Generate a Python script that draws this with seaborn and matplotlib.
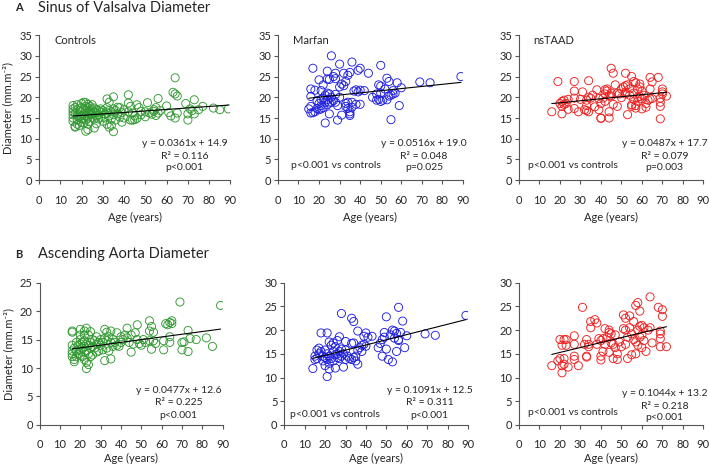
"""
Aortic root diameters vs age: Controls, Marfan and nsTAAD groups.
Two rows (sinus of Valsalva / ascending aorta), one scatter + linear fit per group.
"""

import matplotlib
matplotlib.use("Agg")
import matplotlib.pyplot as plt
import seaborn as sns
import numpy as np

# --- Sinus of Valsalva (indexed diameter, mm.m-2) ---
sov_ctrl_age = [16, 16, 16, 16, 16, 16, 17, 17, 17, 17, 18, 18, 18, 18, 18, 19, 19, 19,
                20, 20, 20, 20, 20, 20, 21, 21, 21, 21, 21, 22, 22, 22, 22, 22, 22,
                23, 23, 23, 23, 23, 23, 24, 24, 24, 24, 25, 25, 25, 25, 26, 26, 26, 26,
                27, 27, 27, 27, 28, 28, 28, 29, 29, 29, 30, 30, 31, 31, 32, 32, 32, 32,
                33, 33, 33, 33, 34, 34, 34, 35, 35, 35, 35, 36, 36, 37, 37, 38, 38, 39, 39,
                40, 40, 42, 42, 42, 43, 43, 44, 44, 45, 45, 46, 46, 47, 48, 48, 50, 50,
                51, 52, 53, 54, 54, 55, 55, 56, 56, 57, 60, 61, 62, 63, 64, 64, 64, 65, 65,
                69, 70, 70, 71, 72, 73, 73, 75, 77, 82, 85, 89]
sov_ctrl_dia = [18.0, 17.2, 16.5, 15.8, 15.0, 14.2, 17.5, 16.0, 13.0, 12.8, 18.2, 17.0, 15.5, 14.5, 13.5, 16.8, 15.2, 13.2,
                18.5, 17.5, 16.5, 15.5, 14.8, 14.0, 18.8, 17.2, 16.0, 15.0, 13.8, 18.7, 17.8, 16.8, 15.6, 14.5, 11.8,
                18.3, 17.5, 16.2, 15.0, 13.5, 12.2, 17.8, 16.8, 15.8, 14.2, 18.2, 17.0, 16.0, 15.2, 17.4, 16.4, 14.8, 12.6,
                17.0, 16.2, 15.5, 13.6, 16.8, 15.8, 14.8, 17.2, 16.4, 15.2, 16.8, 14.2, 16.0, 15.0, 19.6, 17.5, 16.2, 13.5,
                18.8, 16.8, 15.5, 12.8, 16.5, 14.8, 13.2, 20.1, 17.2, 15.8, 11.7, 16.8, 14.5, 17.6, 16.0, 17.5, 15.2, 16.3, 14.0,
                17.0, 15.0, 20.6, 18.6, 16.5, 17.8, 14.5, 16.2, 14.5, 15.5, 14.6, 18.2, 14.9, 17.5, 15.8, 16.6, 15.3, 16.5,
                18.7, 16.2, 15.9, 17.0, 16.6, 17.5, 15.6, 19.7, 16.2, 16.8, 17.9, 16.3, 15.5, 21.2, 24.7, 20.8, 15.0, 20.3, 16.2,
                18.5, 16.0, 14.5, 17.2, 16.8, 19.4, 16.0, 17.0, 17.8, 17.4, 17.0, 17.2]

sov_mfs_age = [15, 16, 16, 16, 16, 17, 17, 18, 18, 19, 19, 20, 20, 20, 21, 21, 21, 21, 22, 22, 22,
               23, 23, 23, 24, 24, 24, 24, 24, 25, 25, 25, 25, 26, 26, 26, 27, 27, 28, 28, 28, 28,
               29, 29, 30, 30, 30, 31, 31, 32, 32, 33, 33, 33, 34, 34, 34, 35, 35, 35, 35, 36, 36, 36,
               37, 38, 38, 39, 39, 40, 40, 40, 42, 44, 46, 48, 48, 49, 49, 50, 50, 50, 50, 51, 52,
               53, 53, 54, 54, 55, 55, 56, 56, 57, 58, 59, 60, 69, 74, 89]
sov_mfs_dia = [17.2, 22.0, 20.2, 17.8, 16.2, 27.0, 16.3, 21.7, 16.5, 19.2, 17.3, 24.2, 18.5, 17.0, 21.6, 19.5, 18.0, 17.2, 23.0, 19.8, 17.5,
               20.5, 18.8, 13.8, 26.3, 24.4, 21.0, 19.5, 18.2, 24.3, 20.8, 16.0, 18.6, 30.0, 20.0, 18.8, 25.0, 19.2, 25.8, 24.5, 20.7, 18.8,
               18.0, 14.5, 28.0, 22.5, 20.0, 23.2, 15.7, 25.8, 22.8, 23.8, 18.5, 17.8, 25.3, 18.8, 17.3, 26.0, 16.5, 16.0, 15.6, 28.5, 18.8, 17.6,
               21.5, 21.8, 18.3, 26.5, 21.3, 27.0, 21.7, 18.3, 21.6, 25.8, 20.0, 19.3, 20.8, 23.0, 19.5, 27.7, 22.7, 21.0, 19.0, 19.3, 22.0,
               24.6, 19.4, 23.8, 20.3, 14.6, 20.5, 21.6, 20.8, 21.0, 23.5, 18.0, 22.3, 23.7, 23.5, 25.0]

sov_ns_age = [16, 19, 20, 21, 21, 21, 22, 22, 23, 24, 24, 27, 27, 27, 27, 29, 30, 31, 32, 33, 33, 33,
              34, 34, 34, 35, 36, 37, 38, 39, 39, 40, 40, 40, 41, 42, 42, 42, 43, 43, 44, 44, 44,
              45, 45, 45, 46, 46, 47, 48, 48, 49, 50, 50, 51, 52, 52, 52, 52, 53, 53, 54, 54,
              55, 55, 55, 56, 56, 56, 57, 57, 57, 58, 58, 58, 59, 59, 59, 60, 60, 60, 61, 62, 62,
              63, 64, 64, 64, 65, 65, 68, 69, 69, 69, 69, 70, 70, 70, 72]
sov_ns_dia = [16.5, 23.8, 18.5, 19.0, 17.8, 16.0, 19.3, 18.3, 18.5, 19.5, 17.1, 23.8, 21.5, 19.8, 17.3, 16.5, 19.5, 21.3, 17.0, 19.3, 18.0, 16.8,
              24.0, 20.0, 16.5, 19.8, 20.5, 17.7, 21.8, 19.7, 17.0, 18.5, 15.0, 14.9, 19.8, 21.8, 20.8, 19.0, 22.0, 21.5, 20.3, 16.5, 15.0,
              27.0, 21.0, 20.3, 25.8, 18.3, 23.0, 21.0, 17.8, 20.8, 22.0, 19.9, 22.5, 25.8, 22.8, 21.2, 20.8, 23.0, 15.8, 22.0, 20.5,
              25.0, 18.2, 17.8, 23.8, 21.0, 19.5, 23.5, 18.0, 17.4, 22.0, 20.0, 19.0, 23.2, 22.5, 20.2, 21.5, 17.2, 19.6, 20.5, 18.5, 17.6,
              19.3, 24.8, 22.0, 19.6, 23.7, 19.7, 24.8, 19.8, 18.8, 17.8, 14.8, 22.0, 21.3, 20.8, 20.3]

# --- Ascending aorta (indexed diameter, mm.m-2) ---
aa_ctrl_age = [16, 16, 16, 16, 16, 16, 17, 17, 17, 18, 18, 18, 19, 19, 20, 20, 20, 20, 20, 20,
               21, 21, 21, 22, 22, 22, 22, 22, 22, 23, 23, 23, 23, 23, 24, 24, 24, 24, 25, 25, 25, 25,
               26, 26, 26, 27, 27, 28, 28, 28, 29, 29, 30, 30, 31, 31, 32, 32, 32, 33, 33, 33, 34, 34,
               35, 35, 35, 36, 36, 37, 38, 38, 39, 40, 40, 41, 42, 43, 43, 44, 45, 45, 46, 47, 48, 48,
               49, 50, 51, 52, 54, 54, 54, 55, 55, 56, 56, 57, 61, 61, 62, 63, 64, 64, 64, 65, 65,
               69, 70, 70, 71, 73, 73, 74, 77, 82, 85, 89]
aa_ctrl_dia = [16.5, 16.3, 14.0, 13.0, 12.5, 12.0, 13.5, 11.5, 11.1, 14.5, 13.0, 12.0, 14.0, 12.5, 16.8, 15.8, 15.0, 14.2, 13.2, 12.2,
               14.5, 13.5, 12.0, 16.5, 15.8, 14.8, 13.8, 12.8, 11.5, 17.0, 14.2, 13.0, 11.0, 9.9, 15.8, 14.0, 12.5, 10.6, 16.4, 14.5, 13.5, 12.0,
               15.0, 13.8, 12.3, 14.8, 13.5, 15.5, 14.2, 12.8, 14.5, 13.0, 15.0, 14.0, 14.5, 13.2, 16.8, 15.2, 11.3, 16.3, 14.8, 13.5, 15.5, 13.0,
               16.5, 14.5, 11.6, 15.0, 13.8, 14.5, 16.2, 14.0, 13.8, 15.5, 14.5, 15.0, 15.8, 17.0, 15.3, 14.5, 15.8, 12.8, 14.2, 16.2, 17.6, 15.0,
               14.3, 14.0, 15.0, 14.5, 18.3, 16.5, 14.8, 17.3, 13.3, 16.3, 14.8, 14.3, 14.8, 13.2, 17.8, 17.6, 18.0, 15.5, 14.5, 18.3, 17.8,
               21.6, 14.5, 13.2, 14.6, 16.6, 12.9, 15.2, 15.0, 15.3, 13.8, 21.0]

aa_mfs_age = [14, 15, 15, 16, 16, 17, 17, 18, 18, 19, 19, 20, 20, 20, 21, 21, 21, 21, 22, 22, 22, 22,
              23, 23, 24, 24, 24, 25, 25, 25, 26, 26, 26, 27, 27, 27, 28, 28, 28, 29, 29, 30, 30, 30,
              31, 32, 33, 33, 33, 34, 34, 34, 35, 35, 36, 36, 36, 37, 38, 38, 39, 39, 40, 40, 41, 43,
              46, 47, 48, 48, 49, 49, 50, 50, 51, 52, 53, 53, 54, 54, 55, 55, 56, 56, 56, 57, 58, 59,
              60, 69, 74, 89]
aa_mfs_dia = [11.9, 14.5, 13.8, 15.8, 14.0, 16.2, 15.0, 19.4, 15.5, 14.5, 13.5, 15.8, 14.2, 12.5, 19.4, 15.0, 13.8, 10.2, 17.5, 14.5, 13.0, 11.8,
              16.8, 14.0, 17.3, 15.5, 13.5, 16.5, 14.8, 12.0, 17.8, 15.0, 14.2, 18.6, 15.5, 14.0, 23.5, 16.0, 14.5, 12.2, 15.0, 17.6, 15.8, 13.8,
              14.5, 14.0, 22.5, 17.2, 13.8, 21.8, 17.3, 14.2, 14.5, 13.5, 19.8, 15.8, 12.8, 16.3, 16.8, 15.5, 18.7, 17.0, 19.4, 16.6, 18.5, 18.7,
              16.3, 17.2, 18.0, 14.5, 19.5, 18.5, 22.8, 16.0, 13.8, 19.0, 20.0, 13.3, 19.8, 18.3, 19.3, 15.5, 24.8, 18.0, 17.8, 19.5, 21.9, 16.3,
              18.8, 19.2, 18.9, 23.1]

aa_ns_age = [16, 19, 20, 20, 21, 21, 21, 22, 22, 22, 23, 23, 24, 27, 27, 27, 27, 29, 31, 32, 33, 33, 33,
             34, 34, 35, 35, 37, 38, 38, 39, 40, 40, 40, 41, 41, 42, 42, 43, 44, 44, 44, 45, 45, 46, 46,
             47, 47, 48, 48, 49, 50, 51, 51, 52, 52, 52, 53, 53, 54, 54, 55, 55, 56, 56, 57, 57, 57,
             58, 58, 58, 59, 59, 59, 60, 60, 60, 61, 61, 62, 63, 64, 64, 65, 68, 69, 69, 69, 69, 70, 70, 72]
aa_ns_dia = [12.5, 13.5, 18.0, 14.0, 16.8, 12.5, 11.0, 18.0, 14.0, 12.8, 18.0, 16.8, 12.2, 18.8, 17.0, 14.5, 13.8, 12.5, 24.8, 17.0, 18.0, 14.5, 14.3,
             17.0, 16.5, 21.8, 20.5, 22.2, 21.5, 17.0, 18.2, 17.8, 14.5, 13.7, 18.2, 15.5, 20.3, 17.0, 18.5, 20.0, 19.5, 15.3, 19.2, 17.3, 14.0, 17.0,
             19.0, 16.3, 15.0, 13.8, 17.5, 16.5, 23.2, 20.3, 22.5, 20.0, 17.0, 18.5, 14.0, 23.0, 20.5, 19.2, 14.8, 21.8, 18.0, 25.2, 17.5, 15.0,
             25.8, 20.0, 16.8, 24.0, 20.8, 18.5, 21.0, 19.0, 16.3, 20.5, 17.8, 15.5, 20.0, 27.0, 20.5, 17.3, 24.8, 19.8, 19.2, 18.2, 16.5, 24.3, 22.9, 16.5]

# Linear fits and statistics printed on the chart
sov_fits = [(0.0361, 14.9), (0.0516, 19.0), (0.0487, 17.7)]
aa_fits = [(0.0477, 12.6), (0.1091, 12.5), (0.1044, 13.2)]
sov_stats = [["y = 0.0361x + 14.9", "R² = 0.116", "p<0.001"],
             ["y = 0.0516x + 19.0", "R² = 0.048", "p=0.025"],
             ["y = 0.0487x + 17.7", "R² = 0.079", "p=0.003"]]
aa_stats = [["y = 0.0477x + 12.6", "R² = 0.225", "p<0.001"],
            ["y = 0.1091x + 12.5", "R² = 0.311", "p<0.001"],
            ["y = 0.1044x + 13.2", "R² = 0.218", "p<0.001"]]
groups = ["Controls", "Marfan", "nsTAAD"]
colors = ["#339933", "#2020e0", "#ee2020"]

sns.set_style("white")
plt.rcParams["font.family"] = ["Lato", "DejaVu Sans"]
plt.rcParams["font.size"] = 7

fig = plt.figure(figsize=(7.09, 4.68), dpi=100)

# axes rectangles (fig fractions)
top_rects = [[0.055, 0.615, 0.270, 0.310], [0.392, 0.615, 0.261, 0.310], [0.732, 0.615, 0.260, 0.310]]
bot_rects = [[0.056, 0.092, 0.258, 0.304], [0.401, 0.092, 0.259, 0.304], [0.732, 0.092, 0.260, 0.304]]

rows = [
    dict(rects=top_rects, ages=[sov_ctrl_age, sov_mfs_age, sov_ns_age],
         dias=[sov_ctrl_dia, sov_mfs_dia, sov_ns_dia], fits=sov_fits, stats=sov_stats,
         ylims=[35, 35, 35], stat_y=[[0.255, 0.165, 0.09]] * 3, vs_y=[0.10, 0.10], vs_x=[0.07, 0.05],
         tpad=8, lpad=4),
    dict(rects=bot_rects, ages=[aa_ctrl_age, aa_mfs_age, aa_ns_age],
         dias=[aa_ctrl_dia, aa_mfs_dia, aa_ns_dia], fits=aa_fits, stats=aa_stats,
         ylims=[25, 30, 30], stat_y=[[0.245, 0.155, 0.065], [0.245, 0.155, 0.065], [0.22, 0.13, 0.05]],
         vs_y=[0.07, 0.085], vs_x=[0.03, 0.05], tpad=7, lpad=2),
]
stat_x = [0.76, 0.79, 0.79]

for r, row in enumerate(rows):
    for i in range(3):
        ax = fig.add_axes(row["rects"][i])
        age = np.array(row["ages"][i])
        dia = np.array(row["dias"][i])
        sns.scatterplot(x=age, y=dia, ax=ax, marker="o", s=34, facecolors="none",
                        edgecolor=colors[i], linewidth=0.65)
        slope, icpt = row["fits"][i]
        xs = np.array([age.min(), age.max()])
        sns.lineplot(x=xs, y=slope * xs + icpt, ax=ax, color="black", linewidth=0.8)

        ax.set_xlim(0, 90)
        ax.set_ylim(0, row["ylims"][i])
        ax.set_xticks(range(0, 91, 10))
        ax.set_yticks(range(0, row["ylims"][i] + 1, 5))
        for s in ["top", "right"]:
            ax.spines[s].set_visible(False)
        for s in ["left", "bottom"]:
            ax.spines[s].set_color("#555555")
            ax.spines[s].set_linewidth(0.8)
        ax.tick_params(axis="both", direction="out", length=3, width=0.8, color="#555555",
                       labelsize=8, left=True, bottom=True)
        ax.tick_params(axis="x", pad=row["tpad"])
        ax.tick_params(axis="y", pad=2)
        ax.set_xlabel("Age (years)", fontsize=8, labelpad=row["lpad"])
        if i == 0:
            ax.set_ylabel("Diameter (mm.m⁻²)", fontsize=8, labelpad=4)
        else:
            ax.set_ylabel("")

        if r == 0:
            ax.text(0.08, 0.96, groups[i], transform=ax.transAxes, fontsize=8, va="center")
        for t, yy in zip(row["stats"][i], row["stat_y"][i]):
            ax.text(stat_x[i], yy, t, transform=ax.transAxes, fontsize=7.5, ha="center", va="center")
        if i > 0:
            ax.text(row["vs_x"][i - 1], row["vs_y"][i - 1], "p<0.001 vs controls",
                    transform=ax.transAxes, fontsize=7.5, va="center")

# panel titles
fig.text(0.021, 0.983, "A", fontsize=8, fontweight="bold", va="center")
fig.text(0.054, 0.983, "Sinus of Valsalva Diameter", fontsize=10.5, va="center")
fig.text(0.021, 0.457, "B", fontsize=8, fontweight="bold", va="center")
fig.text(0.054, 0.457, "Ascending Aorta Diameter", fontsize=10.5, va="center")

plt.savefig("out.png", dpi=100)
